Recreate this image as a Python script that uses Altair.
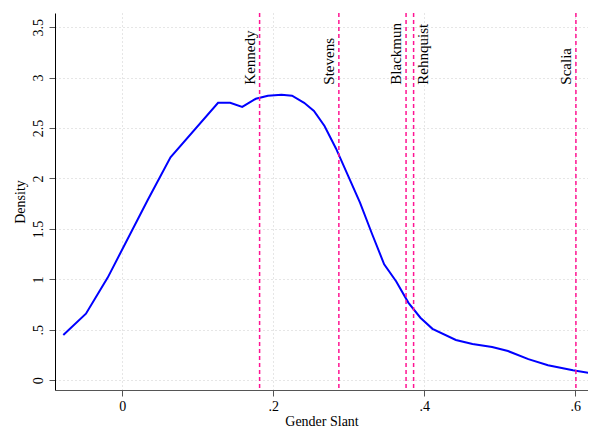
import altair as alt
import pandas as pd

slant = [-0.078, -0.048, -0.019, 0.034, 0.064, 0.127, 0.143, 0.159, 0.177, 0.193, 0.211,
         0.225, 0.241, 0.254, 0.268, 0.283, 0.299, 0.315, 0.331, 0.347, 0.363, 0.379,
         0.395, 0.411, 0.442, 0.464, 0.49, 0.511, 0.538, 0.564, 0.597, 0.62]
density = [0.45, 0.66, 1.02, 1.79, 2.21, 2.75, 2.75, 2.71, 2.79, 2.82, 2.83,
           2.82, 2.75, 2.67, 2.52, 2.30, 2.03, 1.76, 1.45, 1.15, 0.98, 0.77,
           0.62, 0.51, 0.40, 0.36, 0.33, 0.29, 0.21, 0.15, 0.10, 0.07]
justices = ["Kennedy", "Stevens", "Blackmun", "Rehnquist", "Scalia"]
justice_x = [0.182, 0.287, 0.376, 0.386, 0.601]
label_side = ["bottom", "bottom", "bottom", "top", "bottom"]

curve = pd.DataFrame({"x": slant, "y": density})
lines = pd.DataFrame({"name": justices, "x": justice_x, "y": 2.93, "side": label_side})

font = "Liberation Serif"
xs = alt.Scale(domain=[-0.089, 0.617], nice=False, zero=False)
ys = alt.Scale(domain=[-0.096, 3.64], nice=False, zero=False)

common = dict(grid=True, gridDash=[1, 3], gridColor="#cccccc",
              labelExpr="replace(datum.label, '0.', '.')", format="~g",
              labelFont=font, titleFont=font, labelFontSize=14, titleFontSize=14,
              labelColor="black", titleColor="black", titleFontWeight="normal",
              tickSize=6, tickColor="#555")
xax = alt.Axis(values=[0, 0.2, 0.4, 0.6], title="Gender Slant", domainColor="#555",
               labelPadding=3, titlePadding=1, **common)
yax = alt.Axis(values=[0, 0.5, 1, 1.5, 2, 2.5, 3, 3.5], title="Density",
               labelAngle=270, labelAlign="center", labelBaseline="bottom",
               labelPadding=4, domainColor="#000", **common)

line = alt.Chart(curve).mark_line(color="#0000ff", strokeWidth=2, clip=True).encode(
    x=alt.X("x:Q", scale=xs, axis=xax), y=alt.Y("y:Q", scale=ys, axis=yax))
rules = alt.Chart(lines).mark_rule(color="#ff1493", strokeDash=[4, 3], strokeWidth=1.5).encode(
    x="x:Q")
left_text = alt.Chart(lines).transform_filter(alt.datum.side == "bottom").mark_text(
    angle=270, align="left", baseline="bottom", font=font, fontSize=15, dy=-2
).encode(x="x:Q", y="y:Q", text="name:N")
right_text = alt.Chart(lines).transform_filter(alt.datum.side == "top").mark_text(
    angle=270, align="left", baseline="top", font=font, fontSize=15, dy=2
).encode(x="x:Q", y="y:Q", text="name:N")

chart = (line + rules + left_text + right_text).properties(
    width=533, height=377, background="white",
    autosize=alt.AutoSizeParams(type="none"),
    padding={"left": 47, "top": 5, "right": 0, "bottom": 39},
).configure_view(stroke=None)

chart.save("out.html", embed_options={"renderer": "svg", "actions": False})
